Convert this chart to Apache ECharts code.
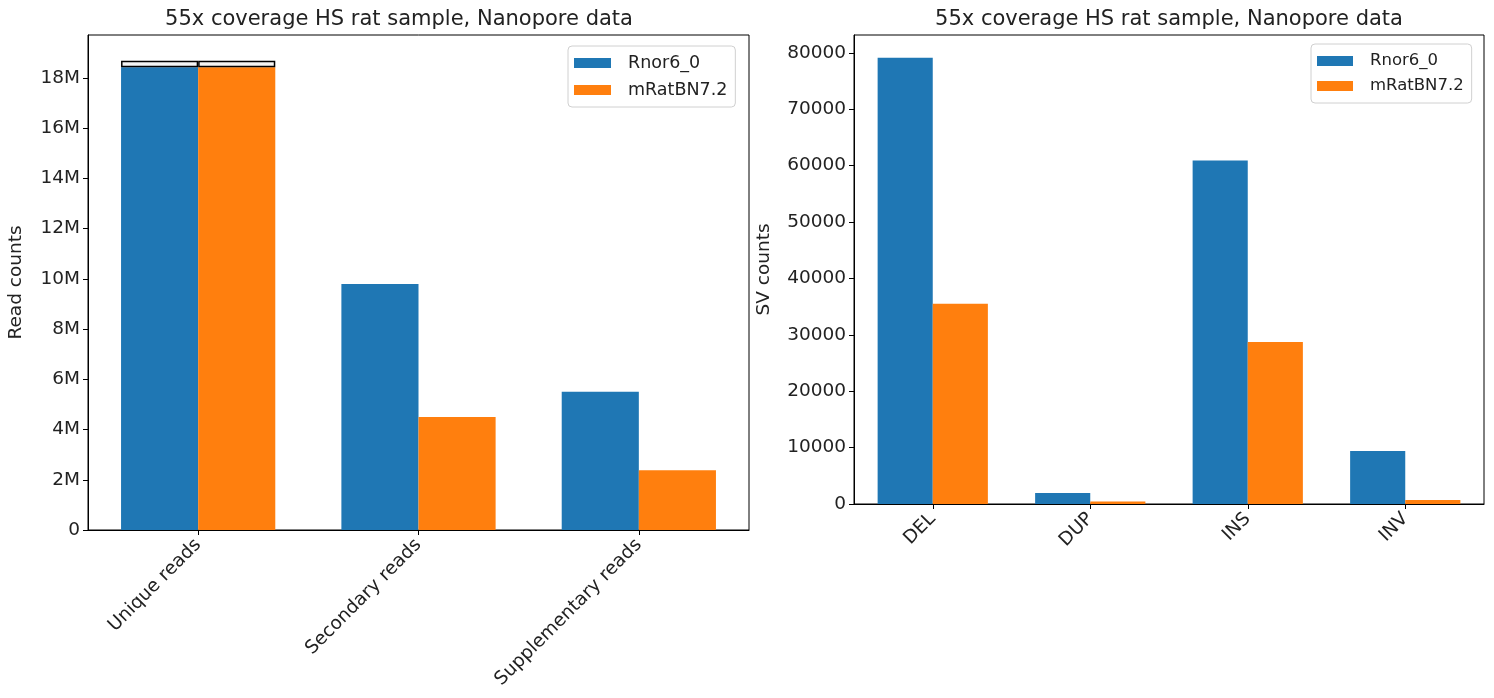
<!DOCTYPE html>
<html>
<head>
<meta charset="utf-8">
<script src="https://cdn.jsdelivr.net/npm/echarts@6/dist/echarts.min.js"></script>
<style>
  html, body { margin: 0; padding: 0; background: #fff; }
  #chart { width: 1494px; height: 698px; }
</style>
</head>
<body>
<div id="chart"></div>
<script>
// data
var titleText = '55x coverage HS rat sample, Nanopore data';
var seriesNames = ['Rnor6_0', 'mRatBN7.2'];
var colors = ['#1f77b4', '#ff7f0e'];

var readCats = ['Unique reads', 'Secondary reads', 'Supplementary reads'];
var readRnor = [18.43e6, 9.8e6, 5.5e6];
var readMrat = [18.43e6, 4.5e6, 2.38e6];
var readTopRnor = [0.25e6, null, null];   // white outlined cap on unique reads
var readTopMrat = [0.25e6, null, null];

var svCats = ['DEL', 'DUP', 'INS', 'INV'];
var svRnor = [79100, 1950, 60900, 9400];
var svMrat = [35500, 450, 28700, 700];

var dom = document.getElementById('chart');
var chart = echarts.init(dom);

var font = 'DejaVu Sans';
var txt = '#222';
var fs = 18.5;

function catAxis(idx, cats) {
    return {
        type: 'category',
        gridIndex: idx,
        data: cats,
        axisLine: { show: true, lineStyle: { color: '#000', width: 1 } },
        axisTick: { show: true, alignWithLabel: true, length: 5, lineStyle: { color: '#000' } },
        axisLabel: { rotate: 45, margin: 12, fontSize: fs, fontFamily: font, color: txt, interval: 0 },
        splitLine: { show: false }
    };
}

function valAxis(idx, max, step, name, gap, fmt) {
    return {
        type: 'value',
        gridIndex: idx,
        min: 0,
        max: max,
        interval: step,
        name: name,
        nameLocation: 'middle',
        nameGap: gap,
        nameTextStyle: { fontSize: fs, fontFamily: font, color: txt },
        axisLine: { show: true, lineStyle: { color: '#000', width: 1 } },
        axisTick: { show: true, length: 5, lineStyle: { color: '#000' } },
        axisLabel: {
            fontSize: fs, fontFamily: font, color: txt, margin: 8,
            showMaxLabel: false,
            formatter: fmt
        },
        splitLine: { show: false }
    };
}

function bar(name, data, xi, stack, color, cap) {
    var s = {
        name: name,
        type: 'bar',
        xAxisIndex: xi,
        yAxisIndex: xi,
        stack: stack,
        data: data,
        barWidth: '35%',
        barGap: '0%',
        itemStyle: { color: color },
        emphasis: { disabled: true }
    };
    if (cap) {
        s.itemStyle = { color: '#f5f5f5', borderColor: '#000', borderWidth: 1.5 };
    }
    return s;
}

function legend(left, top, size, gap, sw) {
    return {
        data: seriesNames,
        orient: 'vertical',
        left: left,
        top: top,
        itemWidth: sw,
        itemHeight: 10,
        itemGap: gap,
        padding: [7, 8, 7, 6],
        borderColor: '#d0d0d0',
        borderWidth: 1,
        borderRadius: 4,
        backgroundColor: '#fff',
        icon: 'rect',
        textStyle: { fontSize: size, lineHeight: 20, fontFamily: font, color: txt, padding: [0, 0, 0, 12] }
    };
}

var option = {
    animation: false,
    backgroundColor: '#fff',
    color: colors,
    title: [
        { text: titleText, left: 394, top: 4, textAlign: 'center',
          textStyle: { fontSize: 21, fontWeight: 'normal', fontFamily: font, color: txt } },
        { text: titleText, left: 1164, top: 4, textAlign: 'center',
          textStyle: { fontSize: 21, fontWeight: 'normal', fontFamily: font, color: txt } }
    ],
    legend: [legend(568, 46, 17.5, 7, 37), legend(1311, 44, 16.5, 5, 36)],
    grid: [
        { left: 88, top: 35, width: 661, height: 495, show: true, borderColor: '#000', borderWidth: 1 },
        { left: 854, top: 35, width: 630, height: 469, show: true, borderColor: '#000', borderWidth: 1 }
    ],
    xAxis: [catAxis(0, readCats), catAxis(1, svCats)],
    yAxis: [
        valAxis(0, 19.71e6, 2e6, 'Read counts', 62, function (v) {
            return v === 0 ? '0' : (v / 1e6) + 'M';
        }),
        valAxis(1, 83150, 10000, 'SV counts', 80, function (v) {
            return String(v);
        })
    ],
    series: [
        bar(seriesNames[0], readRnor, 0, 'r0', colors[0]),
        bar('cap0', readTopRnor, 0, 'r0', null, true),
        bar(seriesNames[1], readMrat, 0, 'r1', colors[1]),
        bar('cap1', readTopMrat, 0, 'r1', null, true),
        bar(seriesNames[0], svRnor, 1, null, colors[0]),
        bar(seriesNames[1], svMrat, 1, null, colors[1])
    ]
};

chart.setOption(option);
window.addEventListener('resize', function () {
    chart.resize();
});
</script>
</body>
</html>
